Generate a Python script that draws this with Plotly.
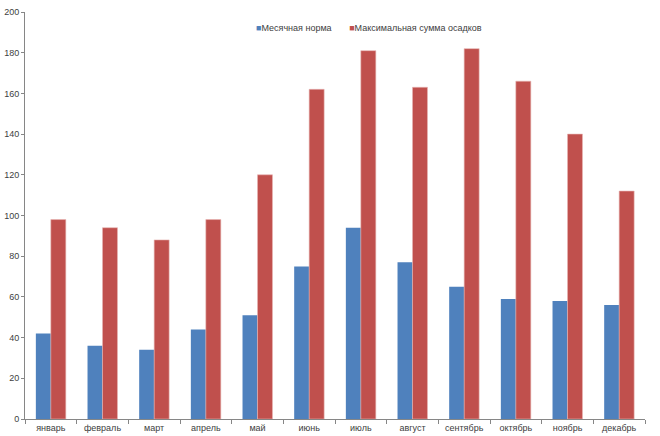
import plotly.graph_objects as go

months = ["январь", "февраль", "март", "апрель", "май", "июнь", "июль",
          "август", "сентябрь", "октябрь", "ноябрь", "декабрь"]
norm = [42, 36, 34, 44, 51, 75, 94, 77, 65, 59, 58, 56]
maxsum = [98, 94, 88, 98, 120, 162, 181, 163, 182, 166, 140, 112]
series_names = ["Месячная норма", "Максимальная сумма осадков"]
colors = ["#4F81BD", "#C0504D"]

fig = go.Figure()
fig.add_trace(go.Bar(x=months, y=norm, name=series_names[0],
                     marker=dict(color=colors[0], line=dict(width=0))))
fig.add_trace(go.Bar(x=months, y=maxsum, name=series_names[1],
                     marker=dict(color=colors[1], line=dict(width=0.6, color="#E8B5B3"))))

legend_text = ("<span style='color:%s'>■</span>%s"
               "&nbsp;&nbsp;&nbsp;&nbsp;&nbsp;&nbsp;&nbsp;"
               "<span style='color:%s'>■</span>%s") % (colors[0], series_names[0],
                                                     colors[1], series_names[1])

fig.update_layout(
    width=660, height=436,
    margin=dict(l=25, r=15, t=12, b=17, autoexpand=False),
    paper_bgcolor="white", plot_bgcolor="white",
    barmode="group", bargap=0.42, bargroupgap=0,
    font=dict(family="Liberation Sans, Arial, sans-serif", size=9, color="#404040"),
    showlegend=False,
    annotations=[dict(text=legend_text, xref="paper", yref="paper",
                      x=0.37, y=0.961, xanchor="left", yanchor="middle",
                      showarrow=False, font=dict(size=9, color="#404040"))],
)
fig.update_xaxes(showline=True, linecolor="#868686", linewidth=1,
                 ticks="outside", ticklen=4, tickcolor="#868686",
                 tickson="boundaries", showgrid=False, zeroline=False,
                 tickfont=dict(size=9, color="#404040"), automargin=False)
fig.update_yaxes(range=[0, 200], dtick=20, showline=True, linecolor="#868686",
                 linewidth=1, ticks="outside", ticklen=3, tickcolor="#868686",
                 showgrid=False, zeroline=False, tickfont=dict(size=9, color="#404040"),
                 automargin=False)

fig.write_html("out.html", config={"displayModeBar": False},
               post_script="document.body.style.margin='0';")
